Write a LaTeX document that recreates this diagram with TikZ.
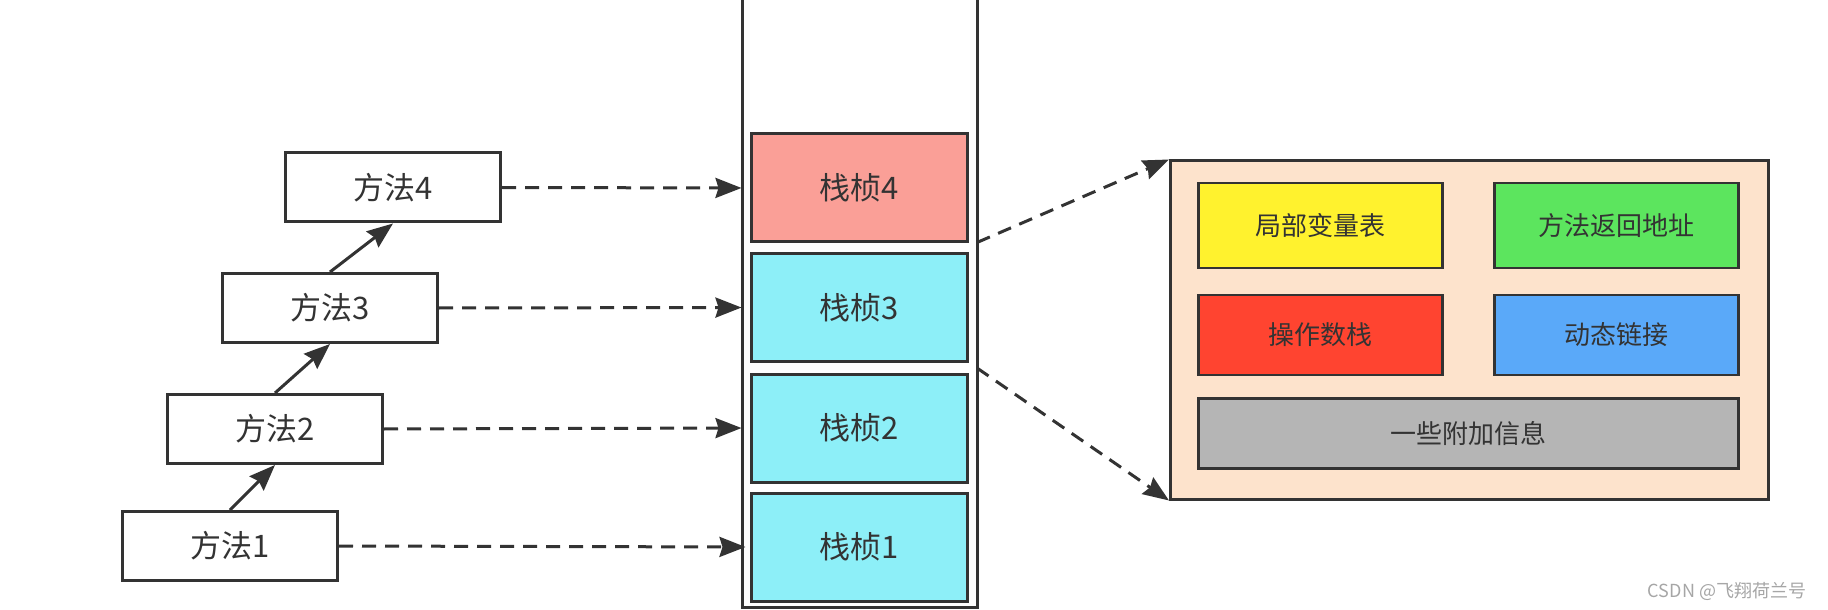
\documentclass[tikz,border=0pt]{standalone}
\usepackage{fontspec}
\setmainfont{Noto Sans CJK SC}
\usetikzlibrary{arrows.meta}
\definecolor{ink}{HTML}{333333}
\definecolor{framered}{HTML}{FA9F97}
\definecolor{framecyan}{HTML}{8DEFF8}
\definecolor{peach}{HTML}{FDE3CC}
\definecolor{cyellow}{HTML}{FFF22E}
\definecolor{cgreen}{HTML}{5CE55E}
\definecolor{cred}{HTML}{FF4430}
\definecolor{cblue}{HTML}{5AA9F9}
\definecolor{cgray}{HTML}{B5B5B5}
\tikzset{
  methodbox/.style={draw=ink, line width=1.5pt, fill=white, minimum width=107.5pt, minimum height=34.5pt, inner sep=0pt, text=ink, font=\fontsize{15.5}{18}\selectfont},
  framebox/.style={draw=ink, line width=1.5pt, minimum width=108pt, minimum height=54pt, inner sep=0pt, text=ink, font=\fontsize{15.5}{18}\selectfont},
  partbox/.style={draw=ink, line width=1.3pt, minimum width=122pt, inner sep=0pt, text=ink, font=\fontsize{13}{15}\selectfont},
  dasharrow/.style={draw=ink, line width=1.5pt, dash pattern=on 7pt off 4.5pt, -{Stealth[length=13pt,width=10pt,inset=1.5pt]}},
  solidarrow/.style={draw=ink, line width=1.5pt, -{Stealth[length=13pt,width=10pt,inset=1.5pt]}}
}
\begin{document}
\begin{tikzpicture}[x=0.5pt,y=-0.5pt]
\useasboundingbox (0,0) rectangle (1828,610);
% stack column
\draw[ink, line width=1.5pt] (742,-4) -- (742,607) -- (977,607) -- (977,-4);
% frames
\node[framebox, fill=framered]  (f4) at (859,188)   {栈桢4};
\node[framebox, fill=framecyan] (f3) at (859,307.5) {栈桢3};
\node[framebox, fill=framecyan] (f2) at (859,428)   {栈桢2};
\node[framebox, fill=framecyan] (f1) at (859,547)   {栈桢1};
% methods
\node[methodbox] (m4) at (393,187.5) {方法4};
\node[methodbox] (m3) at (330,308)   {方法3};
\node[methodbox] (m2) at (275,429)   {方法2};
\node[methodbox] (m1) at (230,546)   {方法1};
% solid arrows
\draw[solidarrow] (m1.north) -- (m2.south);
\draw[solidarrow] (m2.north) -- (m3.south);
\draw[solidarrow] (m3.north) -- (m4.south);
% dashed arrows
\draw[dasharrow, shorten >=4pt] (m4.east) -- (f4.west);
\draw[dasharrow, shorten >=4pt] (m3.east) -- (f3.west);
\draw[dasharrow, shorten >=4pt] (m2.east) -- (f2.west);
\draw[dasharrow, shorten >=2pt] (m1.east) -- (f1.west);
% detail box
\node[draw=ink, line width=1.5pt, fill=peach, minimum width=299pt, minimum height=169pt, inner sep=0pt] (d) at (1469.5,330) {};
\node[partbox, fill=cyellow, minimum height=42.5pt] (p1) at (1320.75,225.5) {局部变量表};
\node[partbox, fill=cgreen,  minimum height=42.5pt] (p2) at (1616.3,225.5)  {方法返回地址};
\node[partbox, fill=cred,    minimum height=40pt]   (p3) at (1320.75,335)   {操作数栈};
\node[partbox, fill=cblue,   minimum height=40pt]   (p4) at (1616.3,335)    {动态链接};
\node[partbox, fill=cgray,   minimum width=270pt, minimum height=35pt] (p5) at (1468.25,433.75) {一些附加信息};
% links to detail box
\coordinate (s1) at (977,242.5);
\coordinate (s2) at (977,368);
\draw[dasharrow] (s1) -- (d.north west);
\draw[dasharrow] (s2) -- (d.south west);
% watermark
\node[text=black!35, font=\fontsize{9}{11}\selectfont, inner sep=0pt] (wm) at (1727,591) {CSDN @飞翔荷兰号};
\end{tikzpicture}
\end{document}
